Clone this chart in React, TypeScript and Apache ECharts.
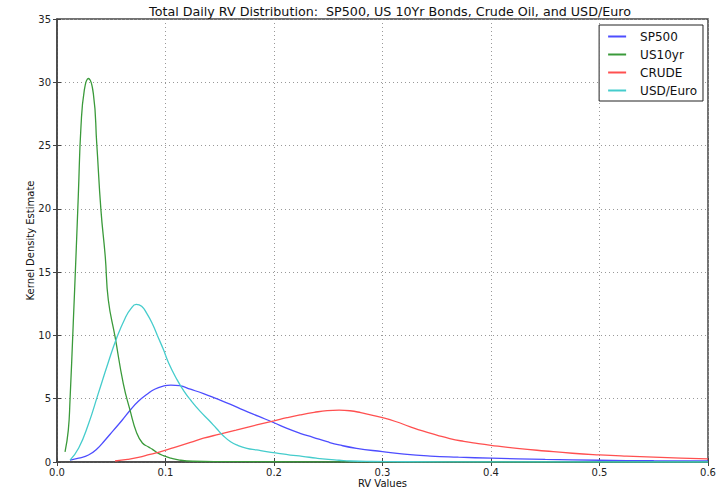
import React, { useEffect, useRef } from "react";
import * as echarts from "echarts";

const titleText = "Total Daily RV Distribution:  SP500, US 10Yr Bonds, Crude Oil, and USD/Euro";
const seriesNames = ["SP500", "US10yr", "CRUDE", "USD/Euro"];
const seriesColors = ["#4d4dff", "#3a9a3a", "#ff5050", "#45cccc"];

const sp500X = [0.012, 0.02, 0.029, 0.037, 0.044, 0.052, 0.06, 0.068, 0.075, 0.083, 0.09, 0.098, 0.105, 0.113, 0.123, 0.135, 0.147, 0.16, 0.172, 0.186, 0.2, 0.212, 0.224, 0.236, 0.249, 0.26, 0.276, 0.3, 0.32, 0.344, 0.37, 0.4, 0.45, 0.5, 0.55, 0.6];
const sp500Y = [0.15, 0.3, 0.55, 1.05, 1.7, 2.5, 3.3, 4.15, 4.8, 5.35, 5.75, 6.0, 6.08, 6.03, 5.75, 5.4, 5.0, 4.55, 4.1, 3.6, 3.1, 2.65, 2.27, 1.95, 1.6, 1.35, 1.08, 0.82, 0.62, 0.47, 0.38, 0.3, 0.2, 0.14, 0.1, 0.08];

const us10X = [0.0074, 0.0104, 0.012, 0.015, 0.0175, 0.0197, 0.0221, 0.0252, 0.0289, 0.0335, 0.0366, 0.0405, 0.0445, 0.0473, 0.0535, 0.0611, 0.0673, 0.0734, 0.0787, 0.084, 0.088, 0.092, 0.098, 0.105, 0.113, 0.125, 0.15, 0.2, 0.3, 0.45, 0.6];
const us10Y = [0.8, 2.5, 4.9, 11.0, 16.3, 21.2, 26.5, 29.4, 30.3, 29.1, 25.2, 19.9, 16.2, 12.8, 9.9, 6.2, 4.1, 2.3, 1.5, 1.2, 1.0, 0.75, 0.5, 0.3, 0.15, 0.06, 0.03, 0.02, 0.01, 0.0, 0.0];

const crudeX = [0.0535, 0.065, 0.075, 0.0857, 0.098, 0.11, 0.123, 0.135, 0.15, 0.165, 0.178, 0.19, 0.2, 0.212, 0.224, 0.237, 0.249, 0.26, 0.27, 0.28, 0.29, 0.3, 0.312, 0.325, 0.337, 0.35, 0.362, 0.375, 0.387, 0.4, 0.424, 0.45, 0.475, 0.5, 0.525, 0.55, 0.575, 0.6];
const crudeY = [0.08, 0.2, 0.36, 0.6, 0.88, 1.2, 1.55, 1.88, 2.2, 2.52, 2.8, 3.05, 3.25, 3.5, 3.72, 3.92, 4.06, 4.1, 4.05, 3.9, 3.7, 3.5, 3.2, 2.8, 2.45, 2.13, 1.85, 1.63, 1.47, 1.32, 1.08, 0.87, 0.69, 0.56, 0.46, 0.38, 0.3, 0.24];

const usdX = [0.012, 0.02, 0.029, 0.038, 0.047, 0.055, 0.063, 0.068, 0.073, 0.078, 0.083, 0.088, 0.093, 0.098, 0.103, 0.11, 0.117, 0.124, 0.132, 0.14, 0.147, 0.153, 0.16, 0.167, 0.175, 0.184, 0.193, 0.204, 0.215, 0.226, 0.239, 0.25, 0.26, 0.27, 0.29, 0.32, 0.4, 0.6];
const usdY = [0.15, 1.1, 3.0, 5.4, 7.8, 9.8, 11.4, 12.1, 12.45, 12.3, 11.7, 10.9, 9.9, 8.9, 7.8, 6.6, 5.6, 4.8, 4.0, 3.3, 2.65, 2.1, 1.6, 1.3, 1.08, 0.95, 0.82, 0.68, 0.55, 0.45, 0.3, 0.2, 0.14, 0.08, 0.04, 0.02, 0.01, 0.0];

const seriesX = [sp500X, us10X, crudeX, usdX];
const seriesY = [sp500Y, us10Y, crudeY, usdY];

const xTicks = [0, 0.1, 0.2, 0.3, 0.4, 0.5, 0.6];
const yTicks = [0, 5, 10, 15, 20, 25, 30, 35];

const FONT = "DejaVu Sans";
const AXIS = "#444";

export default function App() {
  const ref = useRef<HTMLDivElement>(null);
  useEffect(() => {
    if (!ref.current) return;
    const chart = echarts.init(ref.current, undefined, { renderer: "svg" });
    const series = seriesNames.map((name, i) => ({
      name,
      type: "line",
      data: seriesX[i].map((x, j) => [x, seriesY[i][j]]),
      showSymbol: false,
      smooth: 0.5,
      color: seriesColors[i],
      lineStyle: { width: 1.3, color: seriesColors[i] },
      z: 3 + i,
    }));
    const tickStyle = { show: true, inside: true, length: 4, lineStyle: { color: AXIS, width: 1 } };
    chart.setOption({
      animation: false,
      backgroundColor: "#fff",
      textStyle: { fontFamily: FONT },
      title: {
        text: titleText,
        left: 385,
        textAlign: "center",
        top: 0,
        textStyle: { fontFamily: FONT, fontSize: 12.7, fontWeight: "normal", color: "#111" },
      },
      grid: {
        left: 57,
        right: 12,
        top: 19,
        bottom: 28,
        outerBoundsMode: "none",
        containLabel: false,
        show: true,
        borderColor: AXIS,
        borderWidth: 1.5,
        backgroundColor: "#fff",
      },
      legend: {
        data: seriesNames,
        orient: "vertical",
        right: 17,
        top: 25,
        backgroundColor: "#fff",
        borderColor: "#222",
        borderWidth: 1,
        padding: [5, 6, 4, 9],
        itemGap: 5,
        itemWidth: 18,
        itemHeight: 2,
        icon: "rect",
        textStyle: { fontFamily: FONT, fontSize: 12, color: "#111", lineHeight: 13, padding: [0, 0, 0, 9] },
      },
      xAxis: [
        {
          type: "value",
          min: 0,
          max: 0.6,
          interval: 0.1,
          name: "RV Values",
          nameLocation: "middle",
          nameGap: 21,
          nameMoveOverlap: false,
          nameTextStyle: { fontFamily: FONT, fontSize: 10, color: "#111", verticalAlign: "middle", lineHeight: 11 },
          axisLine: { show: true, lineStyle: { color: AXIS, width: 1.5 } },
          axisTick: tickStyle,
          axisLabel: { fontFamily: FONT, fontSize: 10, color: "#222", margin: 5, formatter: (v: number) => (xTicks.some((t) => Math.abs(t - v) < 1e-9) ? v.toFixed(1) : "") },
          splitLine: { show: true, lineStyle: { color: "#999", type: [1, 3], width: 1 } },
        },
        {
          type: "value",
          position: "top",
          min: 0,
          max: 0.6,
          interval: 0.1,
          axisLine: { show: false },
          axisTick: tickStyle,
          axisLabel: { show: false },
          splitLine: { show: false },
        },
      ],
      yAxis: [
        {
          type: "value",
          min: 0,
          max: 35,
          interval: 5,
          name: "Kernel Density Estimate",
          nameLocation: "middle",
          nameGap: 22,
          nameMoveOverlap: false,
          nameTextStyle: { fontFamily: FONT, fontSize: 10, color: "#111" },
          axisLine: { show: true, lineStyle: { color: AXIS, width: 1.5 } },
          axisTick: tickStyle,
          axisLabel: { fontFamily: FONT, fontSize: 10, color: "#222", margin: 6, formatter: (v: number) => (yTicks.includes(v) ? String(v) : "") },
          splitLine: { show: true, lineStyle: { color: "#999", type: [1, 3], width: 1 } },
        },
        {
          type: "value",
          position: "right",
          min: 0,
          max: 35,
          interval: 5,
          axisLine: { show: false },
          axisTick: tickStyle,
          axisLabel: { show: false },
          splitLine: { show: false },
        },
      ],
      series,
    });
    return () => chart.dispose();
  }, []);
  return <div ref={ref} style={{ width: 720, height: 490, position: "absolute", left: 0, top: 0 }} />;
}
